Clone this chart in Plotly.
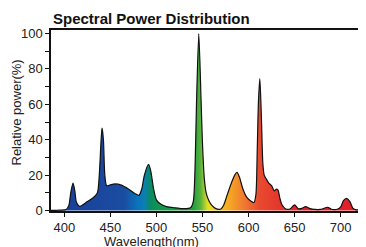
import plotly.graph_objects as go

# ---- data ----
wavelength_nm = [385, 395, 402, 405, 407, 409.5, 411.5, 413, 416, 418, 425, 432, 436,
                 438, 440, 441, 442.5, 444, 446, 450, 455, 462, 470, 477, 481, 484, 487,
                 491.5, 494, 497, 500, 505, 511, 520, 530, 537, 540, 542, 543.5, 546,
                 548.5, 550, 552, 554, 557, 560, 564, 568, 570, 573, 577, 581, 585, 587.5,
                 590, 594, 598, 602, 606, 608, 609.5, 610.8, 612.3, 614, 615.5, 617, 619,
                 622, 625, 628, 630, 632, 634, 636, 640, 645, 650, 654, 658, 662, 666,
                 672, 678, 686, 690, 697, 700, 703, 706.5, 710, 713, 716, 722, 730]
relative_power = [0, 0.2, 0.5, 3, 10, 15.4, 11, 5, 2.5, 2.5, 5, 7.5, 10,
                  20, 40, 46.5, 40, 20, 14, 14.5, 15, 14.3, 12, 9.5, 8.5, 12, 20,
                  26, 22, 12, 6, 3.5, 2.2, 1.5, 1, 1.5, 5, 25, 60, 100,
                  62, 38, 18, 10, 5.5, 3, 1.2, 0.6, 0.8, 3, 9, 15, 20, 21.5,
                  19, 12, 7.5, 5.5, 4.5, 9, 35, 62, 74.5, 52, 27, 20, 18,
                  15.5, 14, 11, 12, 11.5, 7, 3.5, 1, 0.8, 3.2, 1, 1.2, 2.2, 1.2,
                  0.6, 0.6, 1.8, 0.7, 0.8, 2, 5.5, 6.8, 5, 1.5, 0.5, 0.3, 0.2]

x_tick_values = [400, 450, 500, 550, 600, 650, 700]
y_tick_values = [0, 10, 20, 30, 40, 50, 60, 70, 80, 90, 100]
y_tick_labels = ["0", "", "20", "", "40", "", "60", "", "80", "", "100"]

# spectral colours (wavelength -> colour) for the fill gradient
grad_nm = [385, 465, 480, 487, 493, 505, 540, 548, 556, 565, 580, 595, 612, 640, 660, 730]
grad_col = ["#1b3c96", "#1a4da2", "#0a74bd", "#0a7fb2", "#0a8a66", "#13984a", "#1ea040",
            "#5ab23c", "#e6e022", "#f8c820", "#f5a623", "#f07a30", "#e84a30", "#e3302c",
            "#e0202a", "#e0202a"]

g0, g1 = grad_nm[0], grad_nm[-1]
colorscale = [[(w - g0) / (g1 - g0), c] for w, c in zip(grad_nm, grad_col)]

FONT = "Liberation Sans, Arial, Helvetica, sans-serif"

fig = go.Figure()
fig.add_trace(go.Scatter(
    x=wavelength_nm, y=relative_power, mode="lines",
    line=dict(color="#111111", width=1.2, shape="spline", smoothing=0.7),
    fill="tozeroy",
    fillgradient=dict(type="horizontal", colorscale=colorscale, start=g0, stop=g1),
    hoverinfo="skip", showlegend=False,
))

# the page body adds an 8px offset, so the figure is sized to the visible area
fig.update_layout(
    width=358, height=239,
    margin=dict(l=43, r=0, t=22, b=36),
    paper_bgcolor="white", plot_bgcolor="white",
    font=dict(family=FONT, size=13, color="#222222"),
    xaxis=dict(range=[385.6, 727.5], tickvals=x_tick_values,
               showline=True, linecolor="#111111", linewidth=1.5, mirror=True,
               ticks="outside", ticklen=4, tickcolor="#111111", tickwidth=1,
               showgrid=False, zeroline=False, tickfont=dict(size=13)),
    yaxis=dict(range=[-0.3, 102], tickvals=y_tick_values, ticktext=y_tick_labels,
               showline=True, linecolor="#111111", linewidth=1.5,
               ticks="outside", ticklen=4, tickcolor="#111111", tickwidth=1,
               showgrid=False, zeroline=False, tickfont=dict(size=13)),
    annotations=[
        dict(text="<b>Spectral Power Distribution</b>", xref="paper", yref="paper",
             x=0, y=1, xanchor="left", yanchor="bottom", yshift=0.5, showarrow=False,
             font=dict(size=15, color="#111111")),
        dict(text="Wavelength(nm)", xref="paper", yref="paper", x=(151.5 - 51) / 315,
             y=0, xanchor="center", yanchor="top", yshift=-21, showarrow=False,
             font=dict(size=13)),
        dict(text="Relative power(%)", xref="paper", yref="paper", x=0, xshift=-35,
             y=(211 - 112.5) / 181, xanchor="center", yanchor="middle", textangle=-90,
             showarrow=False, font=dict(size=13)),
    ],
)

fig.write_html("out.html")
